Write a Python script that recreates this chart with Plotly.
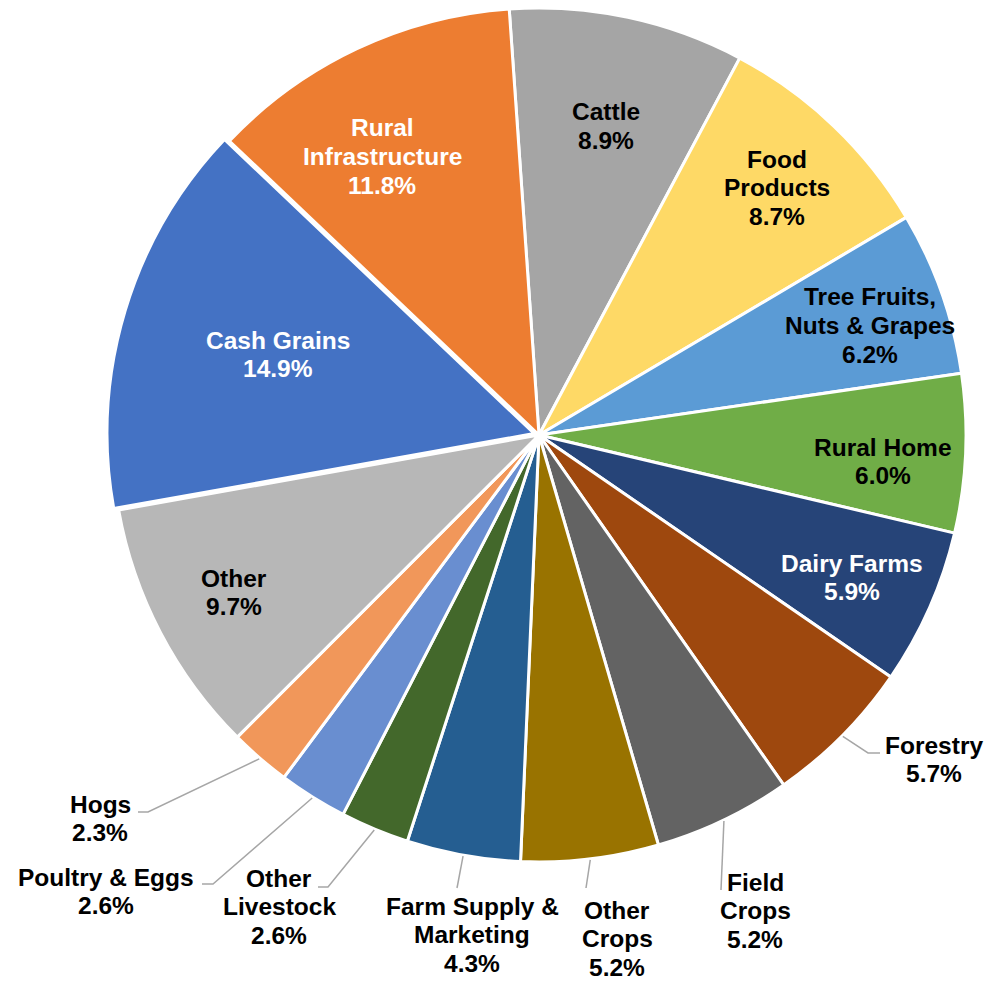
import math
import plotly.graph_objects as go

# Share of loan volume by sector (percent), clockwise from the top
categories = [
    "Cattle", "Food Products", "Tree Fruits, Nuts & Grapes", "Rural Home",
    "Dairy Farms", "Forestry", "Field Crops", "Other Crops",
    "Farm Supply & Marketing", "Other Livestock", "Poultry & Eggs", "Hogs",
    "Other", "Cash Grains", "Rural Infrastructure",
]
shares = [8.9, 8.7, 6.2, 6.0, 5.9, 5.7, 5.2, 5.2, 4.3, 2.6, 2.6, 2.3, 9.7, 14.9, 11.8]

# How each category name is broken over lines in its label
label_lines = [
    ["Cattle"], ["Food", "Products"], ["Tree Fruits,", "Nuts & Grapes"], ["Rural Home"],
    ["Dairy Farms"], ["Forestry"], ["Field", "Crops"], ["Other", "Crops"],
    ["Farm Supply &", "Marketing"], ["Other", "Livestock"], ["Poultry & Eggs"], ["Hogs"],
    ["Other"], ["Cash Grains"], ["Rural", "Infrastructure"],
]

colors = [
    "#A5A5A5", "#FED966", "#5B9BD5", "#70AD47",
    "#264478", "#9E480E", "#636363", "#997300",
    "#255E91", "#43682B", "#698ED0", "#F1975A",
    "#B7B7B7", "#4472C4", "#ED7D31",
]
text_colors = [
    "#000000", "#000000", "#000000", "#000000",
    "#FFFFFF", "#000000", "#000000", "#000000",
    "#000000", "#000000", "#000000", "#000000",
    "#000000", "#FFFFFF", "#FFFFFF",
]
pulls = [0, 0, 0, 0, 0, 0, 0, 0, 0, 0, 0, 0, 0, 0.012, 0]

# Page geometry (pixels)
W, H = 989, 981
CX, CY, R = 539, 435, 427
ROTATION = -4
FONT_SIZE = 24.5
LINE_STEP = 28.7

# Label placement: centre x and y of first line (pixels)
label_pos = [
    (606, 112), (777, 159), (870, 297), (883, 447),
    (852, 563), (934, 745), (755, 882), (617, 910),
    (472, 906), (279, 878), (106, 877), (100, 804),
    (234, 578), (278, 340), (382, 128),
]
# Leader lines for labels outside the pie: bend point(s) after leaving the slice
leaders = [
    None, None, None, None,
    None, [(868, 753), (880, 753)], [(721, 890)], [(586, 888)],
    [(457, 888)], [(328, 887), (318, 887)], [(213, 884), (202, 884)], [(148, 812), (138, 812)],
    None, None, None,
]


def px(x):
    return x / W


def py(y):
    return 1 - y / H


half = R * (1 + max(pulls))
fig = go.Figure(
    go.Pie(
        labels=categories,
        values=shares,
        sort=False,
        direction="clockwise",
        rotation=ROTATION,
        pull=pulls,
        marker=dict(colors=colors, line=dict(color="#FFFFFF", width=3)),
        textinfo="none",
        hoverinfo="label+percent",
        showlegend=False,
        domain=dict(x=[px(CX - half), px(CX + half)], y=[py(CY + half), py(CY - half)]),
    )
)

annotations = []
shapes = []
total = sum(shares)
cum = 0.0
for i, v in enumerate(shares):
    mid = math.radians(ROTATION + 360 * (cum + v / 2) / total)
    cum += v
    lines = label_lines[i] + [f"{v:.1f}%"]
    x0, y0 = label_pos[i]
    for k, line in enumerate(lines):
        annotations.append(dict(
            x=px(x0), y=py(y0 + k * LINE_STEP), xref="paper", yref="paper",
            text=f"<b>{line}</b>", showarrow=False,
            xanchor="center", yanchor="middle",
            font=dict(family="Liberation Sans, Arial, sans-serif", size=FONT_SIZE, color=text_colors[i]),
        ))
    if leaders[i]:
        sx = CX + (R + 1) * math.sin(mid)
        sy = CY - (R + 1) * math.cos(mid)
        pts = [(sx, sy)] + leaders[i]
        path = "M " + " L ".join(f"{px(a):.5f},{py(b):.5f}" for a, b in pts)
        shapes.append(dict(type="path", path=path, xref="paper", yref="paper",
                           line=dict(color="#A6A6A6", width=1.5)))

fig.update_layout(
    width=W, height=H,
    margin=dict(l=0, r=0, t=0, b=0),
    paper_bgcolor="#FFFFFF",
    plot_bgcolor="#FFFFFF",
    annotations=annotations,
    shapes=shapes,
)

fig.write_html("out.html")
